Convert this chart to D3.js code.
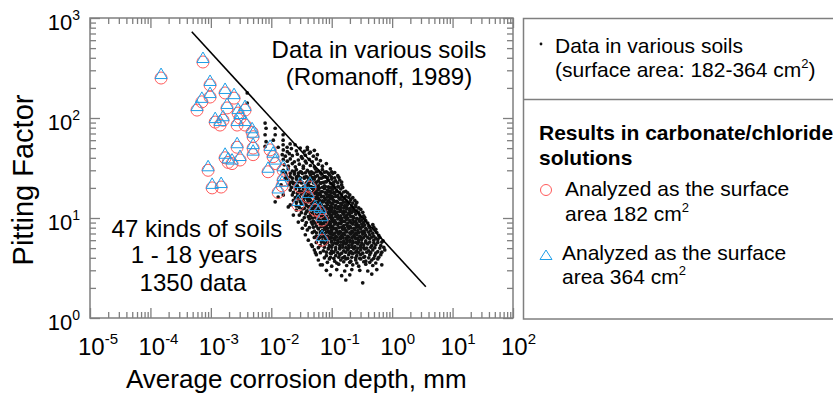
<!DOCTYPE html>
<html>
<head>
<meta charset="utf-8">
<script src="https://cdn.jsdelivr.net/npm/d3@7"></script>
<style>
  body { margin: 0; background: #fff; }
  text { font-family: "Liberation Sans", Arial, sans-serif; fill: #000; }
</style>
</head>
<body>
<div id="chart"></div>
<script>
// tick decades (exponents of ten)
const xTickExps = [-5, -4, -3, -2, -1, 0, 1, 2];
const yTickExps = [0, 1, 2, 3];

// upper bound line (depth mm, pitting factor)
const boundLine = [[4.83e-4, 729], [3.61, 2.05]];

// carbonate/chloride solution results
const solDepth = [1.5e-4, 7.4e-4, 9.7e-4, 9.7e-4, 7.1e-4, 5.9e-4, 1.72e-3, 2.42e-3, 1.85e-3, 1.18e-3,
  1.42e-3, 1.59e-3, 2.82e-3, 3.04e-3, 3.68e-3, 2.72e-3, 3.68e-3, 4.81e-3, 5.0e-3, 2.72e-3,
  5.0e-3, 5.0e-3, 1.72e-3, 1.93e-3, 2.24e-3, 3.04e-3, 9.0e-4, 1.05e-3, 1.48e-3, 9.55e-3,
  1.07e-2, 1.16e-2, 8.85e-3, 1.57e-2, 1.57e-2, 1.51e-2, 1.30e-2, 3.0e-2, 2.78e-2, 4.06e-2,
  6.43e-2, 6.93e-2, 6.93e-2, 4.38e-2, 5.31e-2];
const solFactor = [251, 363, 214, 162, 145, 120, 178, 158, 126, 91,
  85, 95, 112, 100, 120, 85, 85, 72, 65, 51,
  50, 43, 40, 36, 35, 38, 30, 20, 20.4, 48,
  41, 35, 29, 30, 24, 21, 18, 20.4, 13.5, 16.2,
  11.5, 9.5, 6.0, 20.4, 12];

// Romanoff soil data [depth mm, pitting factor]
const soilData = [
  [0.004,178],[0.004,141],[0.0079,89],[0.0082,79],[0.0079,68],[0.0116,79],[0.0116,68],[0.0157,68],[0.0157,60],[0.0157,54],
  [0.013,51],[0.0183,51],[0.0205,55],[0.0248,54],[0.0395,51],[0.0108,60],[0.0082,58],[0.0079,52],[0.0152,29],[0.0171,25],
  [0.0158,17],[0.013,16.2],[0.0116,14.5],[0.0145,21.5],[0.0191,12.9],[0.0232,10.7],[0.028,9.1],[0.0326,7.9],[0.0478,5.2],[0.0536,4.5],[0.0649,3.4],
  [0.0158,48],[0.0184,46],[0.0215,49.5],[0.026,47],[0.0302,50],[0.0352,46.5],[0.0395,48.5],[0.0443,45.5],[0.0516,47.5],
  [0.0152,43],[0.0171,41.5],[0.0199,44],[0.0223,42],[0.027,43.5],[0.0314,41],[0.0366,42.5],[0.0426,44.5],[0.0497,41.5],[0.0579,43],
  [0.0158,38.5],[0.0184,37],[0.0206,39],[0.0241,36.5],[0.028,38],[0.0326,39.5],[0.0366,37],[0.0426,38.5],[0.0478,36.5],[0.0557,39],[0.0649,37.5],
  [0.0164,34],[0.0191,33],[0.0223,35],[0.025,32.5],[0.0291,34.5],[0.0339,33],[0.038,35.5],[0.0443,33.5],[0.0516,32.5],[0.0601,34.5],[0.07,33],[0.0816,35],
  [0.0158,30],[0.0191,31],[0.0223,29.5],[0.026,30.5],[0.0302,29],[0.0339,31.5],[0.0395,30],[0.046,29],[0.0536,31],[0.0601,29.5],[0.07,30.5],[0.0816,29],[0.095,31],
  [0.0171,28.5],[0.0206,28],[0.0241,29],[0.028,28.2],[0.0314,28.8],[0.0366,28.3],[0.0426,28.6],[0.0497,28],[0.0557,29],[0.0649,28.4],[0.0756,28.7],[0.088,28.1],[0.1,28.9],[0.112,28.5],
  [0.0177,27],[0.0206,26],[0.0241,27.5],[0.028,26.5],[0.0326,28],[0.038,26],[0.0443,27],[0.0497,28],[0.0579,26.5],[0.0674,27.5],[0.0785,26],[0.0915,27],[0.104,28],[0.126,26.5],
  [0.0184,25.4],[0.0223,25],[0.026,25.8],[0.0302,25.2],[0.0352,25.6],[0.041,25],[0.0478,25.5],[0.0536,25.9],[0.0625,25.1],[0.0727,25.6],[0.0848,25.3],[0.0985,25.8],[0.112,25.2],[0.131,25.5],
  [0.0191,24],[0.0223,23],[0.026,24.5],[0.0302,23.5],[0.0352,25],[0.0395,23],[0.046,24],[0.0516,24.5],[0.0601,23.5],[0.0674,25],[0.0785,23],[0.088,24],[0.1,24.5],[0.1165,23.5],[0.1357,24],
  [0.0206,22.7],[0.0241,22.4],[0.028,23],[0.0326,22.6],[0.038,22.3],[0.0426,22.9],[0.0497,22.5],[0.0557,22.8],[0.0649,22.3],[0.0727,22.7],[0.0816,23],[0.095,22.4],[0.108,22.8],[0.126,22.5],[0.146,22.9],
  [0.0199,21.5],[0.0232,22],[0.027,21],[0.0314,22.5],[0.0366,21],[0.041,21.5],[0.046,20.5],[0.0536,22],[0.0601,21],[0.0674,22.5],[0.0756,21],[0.088,20.5],[0.0985,22],[0.108,21.5],[0.126,20.5],[0.146,21.5],
  [0.0215,20.2],[0.025,20.5],[0.0291,19.9],[0.0339,20.4],[0.0395,20],[0.0443,20.6],[0.0497,20.1],[0.0557,20.4],[0.0625,19.9],[0.07,20.3],[0.0785,20.6],[0.0915,20],[0.1,20.4],[0.112,20.1],[0.131,20.5],[0.152,20.2],
  [0.0206,19],[0.025,19.5],[0.0291,18.5],[0.0339,19.5],[0.038,19],[0.0426,18.5],[0.0478,19.8],[0.0536,18.8],[0.0601,19.2],[0.0674,18.4],[0.0756,19.6],[0.0848,19],[0.095,18.6],[0.104,19.4],[0.121,18.8],[0.141,19.5],[0.171,18.5],
  [0.0232,18],[0.027,17.7],[0.0314,18.3],[0.0352,17.9],[0.0395,18.2],[0.0443,17.8],[0.0497,18.4],[0.0557,18],[0.0625,17.7],[0.07,18.3],[0.0785,17.9],[0.088,18.2],[0.0985,17.8],[0.108,18.1],[0.121,18.4],[0.136,17.9],[0.158,18.2],[0.184,17.8],
  [0.0223,17],[0.027,16.5],[0.0314,17.4],[0.0366,16.7],[0.041,17.2],[0.046,16.4],[0.0516,17.5],[0.0579,16.8],[0.0649,17.1],[0.0727,16.5],[0.0816,17.3],[0.0915,16.9],[0.1,16.6],[0.112,17.4],[0.126,16.8],[0.146,17.2],[0.171,16.5],[0.199,17],
  [0.025,16],[0.0291,16.3],[0.0339,15.8],[0.038,16.2],[0.0426,15.9],[0.0478,16.4],[0.0536,16],[0.0601,15.7],[0.0674,16.3],[0.0756,15.9],[0.0848,16.2],[0.095,15.8],[0.104,16.1],[0.1165,16.4],[0.131,15.9],[0.146,16.2],[0.164,15.8],[0.191,16.1],[0.223,16],
  [0.0232,15],[0.028,15.5],[0.0339,14.8],[0.0395,15.4],[0.0443,15],[0.0497,14.7],[0.0557,15.6],[0.0625,15.1],[0.07,14.8],[0.0785,15.3],[0.088,14.9],[0.0985,15.5],[0.108,15],[0.121,14.7],[0.136,15.4],[0.152,15.1],[0.177,14.8],[0.207,15.3],[0.241,15],
  [0.026,14.3],[0.0302,14.6],[0.0366,14.1],[0.041,14.5],[0.046,14.2],[0.0516,14.6],[0.0579,14.3],[0.0649,14],[0.0727,14.5],[0.0816,14.2],[0.0915,14.4],[0.1,14.1],[0.112,14.6],[0.126,14.3],[0.141,14],[0.158,14.4],[0.177,14.2],[0.199,14.5],[0.223,14.1],[0.26,14.3],
  [0.0206,13.5],[0.026,13.2],[0.0314,13.8],[0.038,13.4],[0.0426,13.1],[0.0478,13.7],[0.0536,13.3],[0.0601,13.9],[0.0674,13.5],[0.0756,13.1],[0.0848,13.6],[0.095,13.2],[0.104,13.8],[0.1165,13.4],[0.1306,13],[0.146,13.6],[0.164,13.3],[0.184,13.7],[0.215,13.2],[0.25,13.5],
  [0.0291,12.7],[0.0352,12.5],[0.041,12.9],[0.046,12.6],[0.0516,12.8],[0.0579,12.4],[0.0649,12.9],[0.0727,12.6],[0.0816,12.8],[0.0915,12.5],[0.1,12.9],[0.112,12.7],[0.126,12.4],[0.141,12.8],[0.158,12.6],[0.177,12.9],[0.199,12.5],[0.223,12.7],[0.25,12.9],[0.28,12.6],
  [0.026,12],[0.0326,12.3],[0.0395,11.8],[0.046,12.2],[0.0516,11.9],[0.0579,12.4],[0.0649,12],[0.0727,11.7],[0.0816,12.3],[0.0915,11.9],[0.1,12.2],[0.112,11.8],[0.126,12.4],[0.141,12],[0.158,11.7],[0.177,12.3],[0.199,11.9],[0.223,12.1],[0.26,11.8],[0.302,12.2],
  [0.0314,11.3],[0.038,11.5],[0.0443,11.2],[0.0497,11.4],[0.0557,11.6],[0.0625,11.2],[0.07,11.4],[0.0785,11.6],[0.088,11.3],[0.0985,11.5],[0.108,11.2],[0.121,11.4],[0.136,11.6],[0.152,11.3],[0.171,11.5],[0.191,11.2],[0.215,11.4],[0.241,11.6],[0.28,11.3],[0.326,11.4],
  [0.0291,10.7],[0.0366,11],[0.0443,10.5],[0.0516,10.9],[0.0579,10.6],[0.0649,11],[0.0727,10.8],[0.0816,10.4],[0.0915,10.9],[0.1,10.6],[0.112,11],[0.126,10.7],[0.141,10.5],[0.158,10.9],[0.177,10.6],[0.199,10.8],[0.223,10.4],[0.25,10.9],[0.291,10.7],[0.339,10.5],
  [0.0352,10.1],[0.041,10.3],[0.0478,10],[0.0536,10.2],[0.0601,9.9],[0.0674,10.3],[0.0756,10.1],[0.0848,9.9],[0.095,10.2],[0.104,10],[0.1165,10.3],[0.131,10.1],[0.146,9.9],[0.164,10.2],[0.184,10],[0.207,10.3],[0.232,10.1],[0.26,9.9],[0.302,10.2],[0.352,10.1],
  [0.0326,9.5],[0.0426,9.8],[0.0497,9.3],[0.0579,9.7],[0.0649,9.4],[0.0727,9.8],[0.0816,9.5],[0.0915,9.2],[0.1,9.7],[0.112,9.4],[0.126,9.8],[0.141,9.5],[0.158,9.3],[0.177,9.7],[0.199,9.4],[0.223,9.6],[0.25,9.3],[0.28,9.7],[0.314,9.5],[0.366,9.4],
  [0.038,9],[0.046,9.1],[0.0536,8.9],[0.0601,9.2],[0.0674,8.9],[0.0756,9.1],[0.0848,9],[0.095,8.8],[0.104,9.2],[0.1165,9],[0.131,8.9],[0.146,9.1],[0.164,9.2],[0.184,8.9],[0.207,9],[0.232,9.1],[0.26,8.8],[0.291,9.2],[0.339,9],[0.395,8.9],
  [0.0366,8.5],[0.0478,8.7],[0.0557,8.3],[0.0649,8.6],[0.0727,8.8],[0.0816,8.4],[0.0915,8.6],[0.1,8.3],[0.112,8.7],[0.126,8.5],[0.141,8.8],[0.158,8.4],[0.177,8.6],[0.199,8.3],[0.223,8.7],[0.25,8.5],[0.28,8.4],[0.314,8.7],[0.352,8.5],[0.41,8.3],[0.478,8.6],
  [0.0426,8],[0.0497,8.1],[0.0601,7.9],[0.0674,8.2],[0.0756,8],[0.0848,7.9],[0.095,8.1],[0.104,8.2],[0.1165,7.9],[0.131,8],[0.146,8.1],[0.164,7.9],[0.184,8.2],[0.207,8],[0.232,7.9],[0.26,8.1],[0.291,8],[0.326,8.2],[0.366,7.9],[0.426,8],[0.497,8.1],
  [0.0395,7.6],[0.0516,7.4],[0.0601,7.8],[0.07,7.5],[0.0785,7.7],[0.088,7.4],[0.0985,7.6],[0.108,7.8],[0.121,7.5],[0.136,7.3],[0.152,7.7],[0.171,7.5],[0.191,7.8],[0.215,7.4],[0.241,7.6],[0.27,7.5],[0.302,7.8],[0.339,7.4],[0.38,7.6],[0.443,7.5],[0.536,7.7],
  [0.0478,7.15],[0.0557,7.1],[0.0649,7.25],[0.0727,7.05],[0.0816,7.2],[0.0915,7.1],[0.1,7.25],[0.112,7.05],[0.126,7.15],[0.141,7.2],[0.158,7.05],[0.177,7.25],[0.199,7.1],[0.223,7.2],[0.25,7.05],[0.28,7.15],[0.314,7.25],[0.352,7.1],[0.41,7.2],[0.478,7.05],[0.557,7.15],
  [0.0366,6.8],[0.0557,6.6],[0.0649,6.9],[0.0756,6.7],[0.0848,6.6],[0.095,6.9],[0.104,6.8],[0.1165,6.6],[0.1306,6.9],[0.146,6.7],[0.164,6.8],[0.184,6.6],[0.207,6.9],[0.232,6.7],[0.26,6.8],[0.291,6.6],[0.326,6.9],[0.366,6.7],[0.426,6.8],[0.497,6.6],[0.601,6.7],
  [0.0516,6.4],[0.0625,6.35],[0.07,6.45],[0.0785,6.3],[0.088,6.45],[0.0985,6.4],[0.108,6.3],[0.121,6.45],[0.136,6.35],[0.152,6.4],[0.171,6.3],[0.191,6.45],[0.215,6.35],[0.241,6.4],[0.27,6.3],[0.302,6.45],[0.339,6.4],[0.395,6.35],[0.46,6.45],[0.536,6.3],[0.625,6.4],
  [0.041,6],[0.0601,6.2],[0.07,5.9],[0.0816,6.1],[0.0915,6.2],[0.1,5.9],[0.112,6.1],[0.126,6],[0.141,6.2],[0.158,5.9],[0.177,6.1],[0.199,6],[0.223,5.9],[0.25,6.2],[0.28,6],[0.314,6.1],[0.366,5.9],[0.426,6.2],[0.497,6],[0.579,6.1],[0.706,5.9],
  [0.0557,5.7],[0.0674,5.75],[0.0756,5.65],[0.0848,5.7],[0.0985,5.75],[0.112,5.65],[0.126,5.7],[0.141,5.75],[0.158,5.65],[0.177,5.7],[0.199,5.75],[0.223,5.65],[0.25,5.7],[0.28,5.75],[0.314,5.65],[0.366,5.7],[0.426,5.75],[0.497,5.65],[0.579,5.7],[0.674,5.75],
  [0.046,5.4],[0.0649,5.3],[0.0785,5.5],[0.0915,5.3],[0.104,5.4],[0.121,5.5],[0.136,5.3],[0.152,5.4],[0.171,5.5],[0.191,5.3],[0.215,5.4],[0.241,5.2],[0.27,5.5],[0.302,5.3],[0.339,5.4],[0.395,5.5],[0.46,5.3],[0.536,5.4],[0.649,5.3],
  [0.0601,5.05],[0.0756,5.1],[0.088,5],[0.1,5.1],[0.1165,5.05],[0.136,5],[0.152,5.1],[0.171,5.05],[0.191,5],[0.215,5.1],[0.241,5.05],[0.27,5],[0.302,5.1],[0.339,5.05],[0.38,5],[0.443,5.1],[0.516,5.05],[0.625,5],[0.727,5.1],
  [0.0516,4.8],[0.0727,4.7],[0.088,4.9],[0.1,4.7],[0.1165,4.8],[0.136,4.9],[0.158,4.7],[0.184,4.8],[0.207,4.6],[0.232,4.9],[0.26,4.7],[0.302,4.8],[0.352,4.9],[0.41,4.7],[0.478,4.8],[0.579,4.6],[0.756,4.8],
  [0.0649,4.5],[0.0816,4.55],[0.095,4.45],[0.108,4.55],[0.126,4.5],[0.146,4.45],[0.171,4.55],[0.199,4.5],[0.223,4.45],[0.25,4.55],[0.28,4.5],[0.326,4.45],[0.38,4.55],[0.443,4.5],[0.536,4.45],[0.674,4.55],
  [0.0557,4.3],[0.0816,4.2],[0.0985,4.4],[0.1165,4.2],[0.136,4.3],[0.164,4.1],[0.191,4.3],[0.223,4.4],[0.26,4.2],[0.302,4.3],[0.352,4.1],[0.426,4.3],[0.516,4.2],[0.649,4.3],
  [0.0756,4],[0.095,4.05],[0.108,3.95],[0.131,4.05],[0.152,4],[0.184,3.95],[0.215,4.05],[0.25,4],[0.291,3.95],[0.339,4.05],[0.41,4],[0.497,3.95],[0.601,4.05],
  [0.0601,3.8],[0.0915,3.9],[0.112,3.7],[0.141,3.8],[0.171,3.9],[0.207,3.7],[0.25,3.8],[0.302,3.9],[0.366,3.7],[0.46,3.8],[0.579,3.9],
  [0.0848,3.6],[0.121,3.55],[0.158,3.65],[0.199,3.6],[0.26,3.55],[0.339,3.65],[0.426,3.6],[0.536,3.55],
  [0.07,3.4],[0.1,3.3],[0.1306,3.45],[0.177,3.35],[0.223,3.4],[0.28,3.3],[0.366,3.45],[0.478,3.35],[0.674,3.4],
  [0.0816,3],[0.121,3.05],[0.164,2.95],[0.215,3.05],[0.291,3],[0.395,2.95],[0.557,3.05],
  [0.095,2.7],[0.146,2.65],[0.199,2.7],[0.46,2.75],[0.171,2.4],[0.326,2.25]
];

const W = 833, H = 396;
const frameGray = '#7f7f7f';
const red = '#ff5a5a', blue = '#1f9fe8';

const svg = d3.select('#chart').append('svg')
  .attr('width', W)
  .attr('height', H);

const x = d3.scaleLog().domain([1e-5, 1e2]).range([90, 513]);
const y = d3.scaleLog().domain([1, 1e3]).range([318, 18]);

// all tick positions (1..9 per decade)
const isMajor = v => Math.abs(Math.log10(v) - Math.round(Math.log10(v))) < 1e-6;
const xTicks = d3.range(-5, 2).flatMap(e => d3.range(1, 10).map(k => k * Math.pow(10, e))).concat([1e2]);
const yTicks = d3.range(0, 3).flatMap(e => d3.range(1, 10).map(k => k * Math.pow(10, e))).concat([1e3]);

function tickStyle(g, attr) {
  g.select('.domain').remove();
  g.selectAll('.tick text').remove();
  g.selectAll('.tick line')
    .attr('stroke', frameGray)
    .attr('stroke-width', 1.3)
    .attr(attr, function (d) {
      const v = +this.getAttribute(attr);
      return isMajor(d) ? v : v * 0.6;
    });
}

svg.append('g').attr('transform', 'translate(0,318)')
  .call(d3.axisBottom(x).tickValues(xTicks).tickSize(-10).tickSizeOuter(0))
  .call(g => tickStyle(g, 'y2'));
svg.append('g').attr('transform', 'translate(0,18)')
  .call(d3.axisTop(x).tickValues(xTicks).tickSize(-10).tickSizeOuter(0))
  .call(g => tickStyle(g, 'y2'));
svg.append('g').attr('transform', 'translate(90,0)')
  .call(d3.axisLeft(y).tickValues(yTicks).tickSize(-10).tickSizeOuter(0))
  .call(g => tickStyle(g, 'x2'));
svg.append('g').attr('transform', 'translate(513,0)')
  .call(d3.axisRight(y).tickValues(yTicks).tickSize(-10).tickSizeOuter(0))
  .call(g => tickStyle(g, 'x2'));

// plot frame
svg.append('rect')
  .attr('x', 90).attr('y', 18)
  .attr('width', 423).attr('height', 300)
  .attr('fill', 'none')
  .attr('stroke', frameGray)
  .attr('stroke-width', 1.5);

// tick labels as 10^n
const supText = e => (e < 0 ? '-' + (-e) : String(e));

svg.append('g').selectAll('text')
  .data(xTickExps)
  .join('text')
  .attr('x', d => x(Math.pow(10, d)) - 12)
  .attr('y', 355)
  .attr('font-size', 24)
  .each(function (d) {
    const t = d3.select(this);
    t.append('tspan').text('10');
    t.append('tspan').attr('dy', -11).attr('font-size', 15).text(supText(d));
  });

svg.append('g').selectAll('text')
  .data(yTickExps)
  .join('text')
  .attr('x', 80)
  .attr('y', d => y(Math.pow(10, d)) + 12)
  .attr('text-anchor', 'end')
  .attr('font-size', 22)
  .each(function (d) {
    const t = d3.select(this);
    t.append('tspan').text('10');
    t.append('tspan').attr('dy', -10).attr('font-size', 14).text(supText(d));
  });

// axis titles
svg.append('text')
  .attr('x', 126).attr('y', 388)
  .attr('font-size', 26)
  .text('Average corrosion depth, mm');

svg.append('text')
  .attr('transform', 'translate(33,180) rotate(-90)')
  .attr('text-anchor', 'middle')
  .attr('font-size', 29)
  .text('Pitting Factor');

// soil data dots
svg.append('g').selectAll('circle')
  .data(soilData)
  .join('circle')
  .attr('cx', d => x(d[0]))
  .attr('cy', d => y(d[1]))
  .attr('r', 1.85)
  .attr('fill', '#111');

// bound line
svg.append('path')
  .datum(boundLine)
  .attr('d', d3.line().x(d => x(d[0])).y(d => y(d[1])))
  .attr('fill', 'none')
  .attr('stroke', '#000')
  .attr('stroke-width', 1.6);

// solution results: circle (182 cm2) and triangle (364 cm2)
const solData = solDepth.map((d, i) => [d, solFactor[i]]);
const triPath = 'M0,-10L6,0.5L-6,0.5Z';

svg.append('g').selectAll('circle')
  .data(solData)
  .join('circle')
  .attr('cx', d => x(d[0]))
  .attr('cy', d => y(d[1]))
  .attr('r', 6)
  .attr('fill', 'none')
  .attr('stroke', red)
  .attr('stroke-width', 1);

svg.append('g').selectAll('path')
  .data(solData)
  .join('path')
  .attr('transform', d => `translate(${x(d[0])},${y(d[1])})`)
  .attr('d', triPath)
  .attr('fill', 'none')
  .attr('stroke', blue)
  .attr('stroke-width', 1);

// annotations in the plot
const note1 = svg.append('text').attr('text-anchor', 'middle').attr('font-size', 24);
note1.append('tspan').attr('x', 379).attr('y', 58).text('Data in various soils');
note1.append('tspan').attr('x', 379).attr('y', 85).text('(Romanoff, 1989)');

const note2 = svg.append('text').attr('text-anchor', 'middle').attr('font-size', 24);
note2.append('tspan').attr('x', 197).attr('y', 237).text('47 kinds of soils');
note2.append('tspan').attr('x', 194).attr('y', 263).text('1 - 18 years');
note2.append('tspan').attr('x', 193).attr('y', 291).text('1350 data');

// legend box
const legend = svg.append('g');
legend.append('rect')
  .attr('x', 523.5).attr('y', 18.5)
  .attr('width', 340).attr('height', 300.5)
  .attr('fill', 'none')
  .attr('stroke', frameGray)
  .attr('stroke-width', 1.5);
legend.append('line')
  .attr('x1', 523.5).attr('x2', 840)
  .attr('y1', 99.5).attr('y2', 99.5)
  .attr('stroke', frameGray)
  .attr('stroke-width', 1.5);

legend.append('circle')
  .attr('cx', 541).attr('cy', 44).attr('r', 1.4).attr('fill', '#111');

const l1 = legend.append('text').attr('font-size', 21);
l1.append('tspan').attr('x', 555).attr('y', 53).text('Data in various soils');
l1.append('tspan').attr('x', 555).attr('y', 77).text('(surface area: 182-364 cm');
l1.append('tspan').attr('dy', -9).attr('font-size', 13).text('2');
l1.append('tspan').attr('dy', 9).text(')');

const l2 = legend.append('text').attr('font-size', 21).attr('font-weight', 'bold');
l2.append('tspan').attr('x', 539).attr('y', 140).text('Results in carbonate/chloride');
l2.append('tspan').attr('x', 539).attr('y', 165).text('solutions');

legend.append('circle')
  .attr('cx', 546).attr('cy', 190).attr('r', 5.5)
  .attr('fill', 'none').attr('stroke', red).attr('stroke-width', 1);

const l3 = legend.append('text').attr('font-size', 21);
l3.append('tspan').attr('x', 565).attr('y', 196).text('Analyzed as the surface');
l3.append('tspan').attr('x', 565).attr('y', 221).text('area 182 cm');
l3.append('tspan').attr('dy', -9).attr('font-size', 13).text('2');

legend.append('path')
  .attr('transform', 'translate(546,259)')
  .attr('d', 'M0,-9L6,0.5L-6,0.5Z')
  .attr('fill', 'none').attr('stroke', blue).attr('stroke-width', 1);

const l4 = legend.append('text').attr('font-size', 21);
l4.append('tspan').attr('x', 562).attr('y', 260).text('Analyzed as the surface');
l4.append('tspan').attr('x', 562).attr('y', 284).text('area 364 cm');
l4.append('tspan').attr('dy', -9).attr('font-size', 13).text('2');
</script>
</body>
</html>
